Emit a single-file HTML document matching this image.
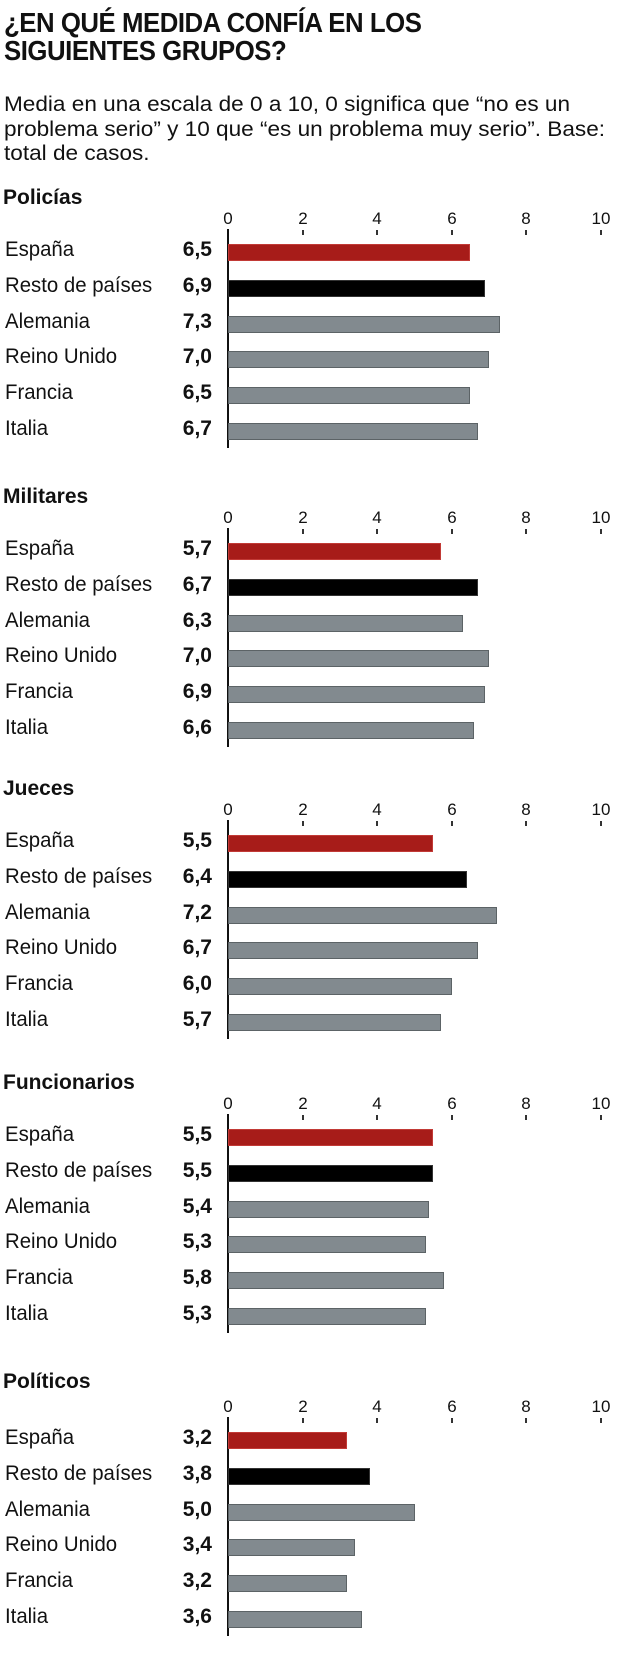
<!DOCTYPE html>
<html><head><meta charset="utf-8"><style>
body{margin:0;width:624px;height:1670px;background:#fff;position:relative;overflow:hidden;font-family:"Liberation Sans Narrow","Liberation Sans",sans-serif;color:#111}
.t{position:absolute;left:4px;top:9px;font-weight:bold;font-size:28px;line-height:28px;letter-spacing:-0.5px;transform:scaleX(0.92);transform-origin:0 0;white-space:nowrap}
.sub{position:absolute;left:4px;top:92px;font-size:21.5px;line-height:24.5px;white-space:nowrap;transform:scaleX(1.05);transform-origin:0 0}
.s{position:absolute;left:0;width:624px;height:220px}
.h{position:absolute;left:3px;top:-58px;font-weight:bold;font-size:21px;line-height:24px}
.tl{position:absolute;top:-35px;font-size:17px;width:30px;margin-left:-15px;text-align:center;line-height:20px}
.tk{position:absolute;top:-14px;width:1.5px;height:5px;background:#333}
.ax{position:absolute;left:227px;top:-15px;width:1.5px;height:219px;background:#111}
.r{position:absolute;left:0;width:624px;height:24px}
.l{position:absolute;left:5px;top:-6px;font-size:21px;line-height:24px;transform:scaleX(0.97);transform-origin:0 0;white-space:nowrap}
.v{position:absolute;right:412px;top:-6px;font-size:21px;line-height:24px;font-weight:bold}
.b{position:absolute;left:228px;top:0;height:17px;box-sizing:border-box;border:1px solid #5c6366;background:#828a8f}
.red{background:#a71c19;border-color:#c23a36}
.blk{background:#000;border-color:#333}
</style></head><body>
<div class="t">¿EN QUÉ MEDIDA CONFÍA EN LOS<br>SIGUIENTES GRUPOS?</div>
<div class="sub">Media en una escala de 0 a 10, 0 significa que “no es un<br>problema serio” y 10 que “es un problema muy serio”. Base:<br>total de casos.</div>

<div class="s" style="top:244px">
<div class="h">Policías</div>
<div class="tl" style="left:228px">0</div><div class="tl" style="left:303px">2</div><div class="tl" style="left:377px">4</div><div class="tl" style="left:452px">6</div><div class="tl" style="left:526px">8</div><div class="tl" style="left:601px">10</div>
<div class="tk" style="left:302px"></div><div class="tk" style="left:376px"></div><div class="tk" style="left:451px"></div><div class="tk" style="left:525px"></div><div class="tk" style="left:600px"></div>
<div class="ax"></div>
<div class="r" style="top:0"><div class="l">España</div><div class="v">6,5</div><div class="b red" style="width:242px"></div></div>
<div class="r" style="top:36px"><div class="l">Resto de países</div><div class="v">6,9</div><div class="b blk" style="width:257px"></div></div>
<div class="r" style="top:72px"><div class="l">Alemania</div><div class="v">7,3</div><div class="b" style="width:272px"></div></div>
<div class="r" style="top:107px"><div class="l">Reino Unido</div><div class="v">7,0</div><div class="b" style="width:261px"></div></div>
<div class="r" style="top:143px"><div class="l">Francia</div><div class="v">6,5</div><div class="b" style="width:242px"></div></div>
<div class="r" style="top:179px"><div class="l">Italia</div><div class="v">6,7</div><div class="b" style="width:250px"></div></div>
</div>

<div class="s" style="top:543px">
<div class="h">Militares</div>
<div class="tl" style="left:228px">0</div><div class="tl" style="left:303px">2</div><div class="tl" style="left:377px">4</div><div class="tl" style="left:452px">6</div><div class="tl" style="left:526px">8</div><div class="tl" style="left:601px">10</div>
<div class="tk" style="left:302px"></div><div class="tk" style="left:376px"></div><div class="tk" style="left:451px"></div><div class="tk" style="left:525px"></div><div class="tk" style="left:600px"></div>
<div class="ax"></div>
<div class="r" style="top:0"><div class="l">España</div><div class="v">5,7</div><div class="b red" style="width:213px"></div></div>
<div class="r" style="top:36px"><div class="l">Resto de países</div><div class="v">6,7</div><div class="b blk" style="width:250px"></div></div>
<div class="r" style="top:72px"><div class="l">Alemania</div><div class="v">6,3</div><div class="b" style="width:235px"></div></div>
<div class="r" style="top:107px"><div class="l">Reino Unido</div><div class="v">7,0</div><div class="b" style="width:261px"></div></div>
<div class="r" style="top:143px"><div class="l">Francia</div><div class="v">6,9</div><div class="b" style="width:257px"></div></div>
<div class="r" style="top:179px"><div class="l">Italia</div><div class="v">6,6</div><div class="b" style="width:246px"></div></div>
</div>

<div class="s" style="top:835px">
<div class="h">Jueces</div>
<div class="tl" style="left:228px">0</div><div class="tl" style="left:303px">2</div><div class="tl" style="left:377px">4</div><div class="tl" style="left:452px">6</div><div class="tl" style="left:526px">8</div><div class="tl" style="left:601px">10</div>
<div class="tk" style="left:302px"></div><div class="tk" style="left:376px"></div><div class="tk" style="left:451px"></div><div class="tk" style="left:525px"></div><div class="tk" style="left:600px"></div>
<div class="ax"></div>
<div class="r" style="top:0"><div class="l">España</div><div class="v">5,5</div><div class="b red" style="width:205px"></div></div>
<div class="r" style="top:36px"><div class="l">Resto de países</div><div class="v">6,4</div><div class="b blk" style="width:239px"></div></div>
<div class="r" style="top:72px"><div class="l">Alemania</div><div class="v">7,2</div><div class="b" style="width:269px"></div></div>
<div class="r" style="top:107px"><div class="l">Reino Unido</div><div class="v">6,7</div><div class="b" style="width:250px"></div></div>
<div class="r" style="top:143px"><div class="l">Francia</div><div class="v">6,0</div><div class="b" style="width:224px"></div></div>
<div class="r" style="top:179px"><div class="l">Italia</div><div class="v">5,7</div><div class="b" style="width:213px"></div></div>
</div>

<div class="s" style="top:1129px">
<div class="h">Funcionarios</div>
<div class="tl" style="left:228px">0</div><div class="tl" style="left:303px">2</div><div class="tl" style="left:377px">4</div><div class="tl" style="left:452px">6</div><div class="tl" style="left:526px">8</div><div class="tl" style="left:601px">10</div>
<div class="tk" style="left:302px"></div><div class="tk" style="left:376px"></div><div class="tk" style="left:451px"></div><div class="tk" style="left:525px"></div><div class="tk" style="left:600px"></div>
<div class="ax"></div>
<div class="r" style="top:0"><div class="l">España</div><div class="v">5,5</div><div class="b red" style="width:205px"></div></div>
<div class="r" style="top:36px"><div class="l">Resto de países</div><div class="v">5,5</div><div class="b blk" style="width:205px"></div></div>
<div class="r" style="top:72px"><div class="l">Alemania</div><div class="v">5,4</div><div class="b" style="width:201px"></div></div>
<div class="r" style="top:107px"><div class="l">Reino Unido</div><div class="v">5,3</div><div class="b" style="width:198px"></div></div>
<div class="r" style="top:143px"><div class="l">Francia</div><div class="v">5,8</div><div class="b" style="width:216px"></div></div>
<div class="r" style="top:179px"><div class="l">Italia</div><div class="v">5,3</div><div class="b" style="width:198px"></div></div>
</div>

<div class="s" style="top:1432px">
<div class="h" style="top:-62px">Políticos</div>
<div class="tl" style="left:228px">0</div><div class="tl" style="left:303px">2</div><div class="tl" style="left:377px">4</div><div class="tl" style="left:452px">6</div><div class="tl" style="left:526px">8</div><div class="tl" style="left:601px">10</div>
<div class="tk" style="left:302px"></div><div class="tk" style="left:376px"></div><div class="tk" style="left:451px"></div><div class="tk" style="left:525px"></div><div class="tk" style="left:600px"></div>
<div class="ax"></div>
<div class="r" style="top:0"><div class="l">España</div><div class="v">3,2</div><div class="b red" style="width:119px"></div></div>
<div class="r" style="top:36px"><div class="l">Resto de países</div><div class="v">3,8</div><div class="b blk" style="width:142px"></div></div>
<div class="r" style="top:72px"><div class="l">Alemania</div><div class="v">5,0</div><div class="b" style="width:187px"></div></div>
<div class="r" style="top:107px"><div class="l">Reino Unido</div><div class="v">3,4</div><div class="b" style="width:127px"></div></div>
<div class="r" style="top:143px"><div class="l">Francia</div><div class="v">3,2</div><div class="b" style="width:119px"></div></div>
<div class="r" style="top:179px"><div class="l">Italia</div><div class="v">3,6</div><div class="b" style="width:134px"></div></div>
</div>
</body></html>
